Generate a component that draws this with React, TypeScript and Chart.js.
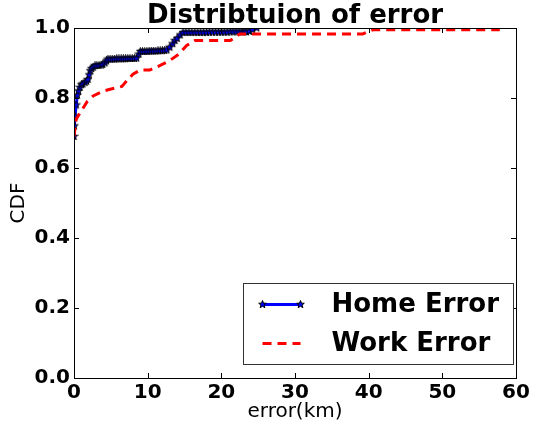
import React, { useEffect, useRef } from "react";
import { Chart, registerables } from "chart.js";

Chart.register(...registerables);

const titleText = "Distribtuion of error";
const xAxisTitle = "error(km)";
const yAxisTitle = "CDF";
const seriesLabels = ["Home Error", "Work Error"];

const xTickValues = [0, 10, 20, 30, 40, 50, 60];
const yTickValues = [0, 0.2, 0.4, 0.6, 0.8, 1.0];

const homeErrorKm = [
  0, 0.05, 0.14, 0.3, 0.45, 0.6, 0.8, 1.0, 1.2, 1.5, 1.7, 1.9, 2.05, 2.2, 2.4, 2.6,
  2.85, 3.1, 3.4, 3.7, 3.9, 4.2, 4.4, 4.6, 4.9, 5.2, 5.5, 5.8, 6.1, 6.4, 6.7, 7.0,
  7.3, 7.6, 7.9, 8.2, 8.5, 8.8, 9.0, 9.3, 9.6, 9.9, 10.2, 10.5, 10.8, 11.1, 11.4,
  11.7, 12.0, 12.3, 12.6, 13.0, 13.4, 13.7, 14.0, 14.4, 14.8, 15.2, 15.6, 16.0,
  16.4, 16.8, 17.2, 17.6, 18.0, 18.4, 18.8, 19.2, 19.6, 20.0, 20.4, 20.8, 21.2,
  21.6, 22.0, 22.4, 22.8, 23.1, 23.4, 23.8, 24.2, 24.8,
];
const homeCdf = [
  0.69, 0.72, 0.748, 0.78, 0.808, 0.82, 0.83, 0.838, 0.84, 0.844, 0.848, 0.853,
  0.866, 0.878, 0.884, 0.888, 0.892, 0.893, 0.893, 0.894, 0.896, 0.9, 0.906,
  0.911, 0.911, 0.911, 0.911, 0.912, 0.912, 0.912, 0.912, 0.912, 0.913, 0.913,
  0.913, 0.913, 0.914, 0.925, 0.933, 0.933, 0.933, 0.933, 0.934, 0.934, 0.934,
  0.934, 0.935, 0.935, 0.935, 0.936, 0.937, 0.945, 0.955, 0.964, 0.97, 0.98,
  0.987, 0.987, 0.987, 0.987, 0.987, 0.987, 0.987, 0.987, 0.987, 0.988, 0.988,
  0.988, 0.988, 0.988, 0.988, 0.988, 0.989, 0.989, 0.989, 0.989, 0.989, 0.989,
  0.989, 0.99, 0.995, 1.0,
];

const workErrorKm = [
  0, 0.3, 1.0, 1.8, 2.6, 4.0, 4.9, 6.5, 7.2, 8.0, 9.0, 10.3, 11.7, 13.0, 14.2,
  15.3, 16.4, 21.2, 22.5, 39.2, 40.6, 57.8,
];
const workCdf = [
  0.69, 0.74, 0.763, 0.79, 0.806, 0.82, 0.825, 0.833, 0.85, 0.868, 0.88, 0.88,
  0.893, 0.907, 0.925, 0.95, 0.964, 0.964, 0.983, 0.983, 0.995, 0.995,
];

const FONT = "'DejaVu Sans', sans-serif";

function makeStar(size: number): HTMLCanvasElement {
  const c = document.createElement("canvas");
  c.width = size;
  c.height = size;
  const ctx = c.getContext("2d")!;
  const cx = size / 2;
  const cy = size / 2;
  const ro = size / 2 - 0.5;
  const ri = ro * 0.42;
  ctx.beginPath();
  for (let i = 0; i < 10; i++) {
    const r = i % 2 === 0 ? ro : ri;
    const a = -Math.PI / 2 + (i * Math.PI) / 5;
    const px = cx + r * Math.cos(a);
    const py = cy + r * Math.sin(a);
    if (i === 0) ctx.moveTo(px, py);
    else ctx.lineTo(px, py);
  }
  ctx.closePath();
  ctx.fillStyle = "#0000ff";
  ctx.fill();
  ctx.strokeStyle = "#000000";
  ctx.lineWidth = 1;
  ctx.stroke();
  return c;
}

export default function App() {
  const ref = useRef<HTMLCanvasElement | null>(null);

  useEffect(() => {
    document.body.style.margin = "0";
    const canvas = ref.current;
    if (!canvas) return;
    const star = makeStar(9);

    const framePlugin = {
      id: "framePlugin",
      afterDraw(chart: any) {
        const { ctx, chartArea } = chart;
        const { left, right, top, bottom } = chartArea;
        const xs = chart.scales.x;
        const ys = chart.scales.y;
        ctx.save();
        // frame
        ctx.strokeStyle = "#000000";
        ctx.lineWidth = 1;
        ctx.strokeRect(Math.round(left) + 0.5, Math.round(top) + 0.5, Math.round(right - left), Math.round(bottom - top));
        // inward ticks
        const tl = 5;
        ctx.beginPath();
        xTickValues.forEach((v) => {
          const px = Math.round(xs.getPixelForValue(v)) + 0.5;
          ctx.moveTo(px, bottom);
          ctx.lineTo(px, bottom - tl);
          ctx.moveTo(px, top);
          ctx.lineTo(px, top + tl);
        });
        yTickValues.forEach((v) => {
          const py = Math.round(ys.getPixelForValue(v)) + 0.5;
          ctx.moveTo(left, py);
          ctx.lineTo(left + tl, py);
          ctx.moveTo(right, py);
          ctx.lineTo(right - tl, py);
        });
        ctx.stroke();

        // title
        ctx.fillStyle = "#000000";
        ctx.font = `bold 26px ${FONT}`;
        ctx.textAlign = "center";
        ctx.textBaseline = "alphabetic";
        ctx.fillText(titleText, (left + right) / 2, 23);

        // legend
        const bw = 270;
        const bh = 81;
        const bx = Math.round(right - 3 - bw) + 0.5;
        const by = Math.round(bottom - 14 - bh) + 0.5;
        ctx.fillStyle = "#ffffff";
        ctx.fillRect(bx, by, bw, bh);
        ctx.strokeStyle = "#333333";
        ctx.lineWidth = 1;
        ctx.strokeRect(bx, by, bw, bh);

        const lx0 = bx + 19;
        const lx1 = bx + 57;
        const r1 = by + 21;
        const r2 = by + 60;
        ctx.strokeStyle = "#0000ff";
        ctx.lineWidth = 3;
        ctx.beginPath();
        ctx.moveTo(lx0, r1);
        ctx.lineTo(lx1, r1);
        ctx.stroke();
        ctx.drawImage(star, lx0 - 4.5, r1 - 4.5);
        ctx.drawImage(star, lx1 - 4.5, r1 - 4.5);

        ctx.strokeStyle = "#ff0000";
        ctx.setLineDash([9, 6]);
        ctx.beginPath();
        ctx.moveTo(lx0, r2);
        ctx.lineTo(lx1, r2);
        ctx.stroke();
        ctx.setLineDash([]);

        ctx.fillStyle = "#000000";
        ctx.font = `bold 26px ${FONT}`;
        ctx.textAlign = "left";
        ctx.textBaseline = "middle";
        ctx.fillText(seriesLabels[0], bx + 88, r1 + 1);
        ctx.fillText(seriesLabels[1], bx + 88, r2 + 1);
        ctx.restore();
      },
    };

    const chart = new Chart(canvas, {
      type: "line",
      data: {
        datasets: [
          {
            label: seriesLabels[0],
            data: homeErrorKm.map((x, i) => ({ x, y: homeCdf[i] })),
            borderColor: "#0000ff",
            backgroundColor: "#0000ff",
            borderWidth: 3,
            pointStyle: star as any,
            pointRadius: 4,
            pointHoverRadius: 4,
            tension: 0,
            fill: false,
            order: 1,
          },
          {
            label: seriesLabels[1],
            data: workErrorKm.map((x, i) => ({ x, y: workCdf[i] })),
            borderColor: "#ff0000",
            backgroundColor: "#ff0000",
            borderWidth: 3,
            borderDash: [9, 6],
            pointRadius: 0,
            tension: 0,
            fill: false,
            order: 0,
          },
        ],
      },
      options: {
        responsive: false,
        animation: false,
        events: [],
        layout: { padding: { top: 28, right: 27, left: 0, bottom: 0 } },
        plugins: {
          legend: { display: false },
          title: { display: false },
          tooltip: { enabled: false },
        },
        scales: {
          x: {
            type: "linear",
            min: 0,
            max: 60,
            afterFit: (s: any) => {
              s.height = 52;
            },
            afterBuildTicks: (s: any) => {
              s.ticks = xTickValues.map((v) => ({ value: v }));
            },
            grid: { display: false, drawTicks: false },
            border: { display: false },
            ticks: {
              padding: 3,
              color: "#000000",
              font: { family: FONT, size: 20, weight: "bold" },
              maxRotation: 0,
              autoSkip: false,
              callback: (v: any) => String(v),
            },
            title: {
              display: true,
              text: xAxisTitle,
              color: "#000000",
              font: { family: FONT, size: 20 },
              padding: { top: 0, bottom: 6 },
            },
          },
          y: {
            type: "linear",
            min: 0,
            max: 1,
            afterFit: (s: any) => {
              s.width = 74;
            },
            afterBuildTicks: (s: any) => {
              s.ticks = yTickValues.map((v) => ({ value: v }));
            },
            grid: { display: false, drawTicks: false },
            border: { display: false },
            ticks: {
              padding: 4,
              color: "#000000",
              font: { family: FONT, size: 20, weight: "bold" },
              autoSkip: false,
              callback: (v: any) => Number(v).toFixed(1),
            },
            title: {
              display: true,
              text: yAxisTitle,
              color: "#000000",
              font: { family: FONT, size: 20 },
              padding: { top: 7, bottom: 0 },
            },
          },
        },
      },
      plugins: [framePlugin],
    });

    return () => {
      chart.destroy();
    };
  }, []);

  return <canvas ref={ref} width={543} height={430} style={{ display: "block" }} />;
}
